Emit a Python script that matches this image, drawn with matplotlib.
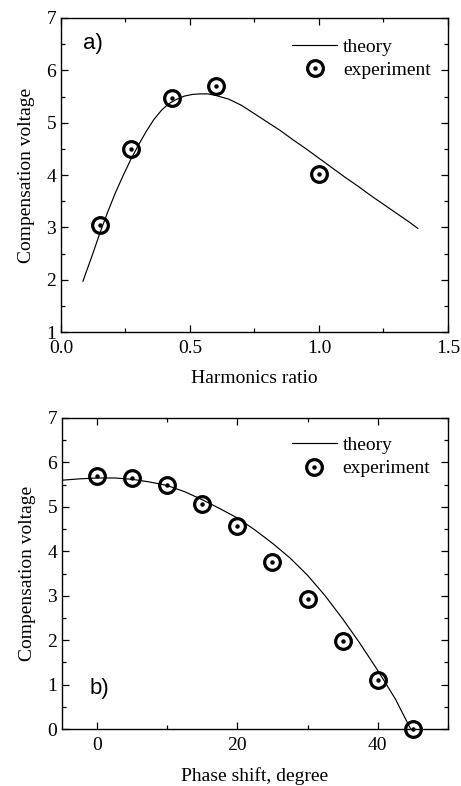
import numpy as np
import matplotlib
matplotlib.use("Agg")
import matplotlib.pyplot as plt
from matplotlib.ticker import MultipleLocator
from matplotlib.legend_handler import HandlerTuple

plt.rcParams['font.family'] = ['Liberation Serif', 'DejaVu Serif']
plt.rcParams['font.size'] = 14

# panel a) - harmonics ratio
ratio_theory = [0.085, 0.12, 0.15, 0.18, 0.21, 0.24, 0.27, 0.30, 0.33, 0.36,
                0.39, 0.42, 0.45, 0.48, 0.51, 0.54, 0.57, 0.60, 0.65, 0.70,
                0.75, 0.80, 0.85, 0.90, 0.95, 1.0, 1.05, 1.10, 1.15, 1.20,
                1.25, 1.30, 1.35, 1.383]
volt_theory_a = [1.97, 2.45, 2.88, 3.28, 3.65, 3.98, 4.29, 4.57, 4.83, 5.06,
                 5.24, 5.37, 5.45, 5.51, 5.54, 5.55, 5.55, 5.52, 5.45, 5.33,
                 5.17, 5.01, 4.85, 4.67, 4.50, 4.32, 4.14, 3.96, 3.79, 3.61,
                 3.44, 3.27, 3.10, 2.98]
ratio_exp = [0.15, 0.27, 0.43, 0.60, 1.0]
volt_exp_a = [3.05, 4.50, 5.48, 5.70, 4.02]

# panel b) - phase shift
phase_theory = [-5, -2.5, 0, 2.5, 5, 7.5, 10, 12.5, 15, 17.5, 20, 22.5, 25,
                27.5, 30, 32.5, 35, 37.5, 40, 42.5, 44.7]
volt_theory_b = [5.60, 5.63, 5.65, 5.65, 5.62, 5.56, 5.48, 5.34, 5.16, 4.96,
                 4.75, 4.48, 4.18, 3.85, 3.46, 3.00, 2.48, 1.92, 1.32, 0.68, 0.0]
phase_exp = [0, 5, 10, 15, 20, 25, 30, 35, 40, 45]
volt_exp_b = [5.70, 5.66, 5.50, 5.06, 4.57, 3.77, 2.93, 1.99, 1.10, 0.0]

fig = plt.figure(figsize=(4.61, 7.86), dpi=100)
ax1 = fig.add_axes([0.1323, 0.5776, 0.8395, 0.3995])
ax2 = fig.add_axes([0.1345, 0.0725, 0.837, 0.3957])


def draw(ax, xt, yt, xe, ye, leg_y):
    line, = ax.plot(xt, yt, color='black', lw=0.85)
    circ, = ax.plot(xe, ye, 'o', ms=11.3, mfc='none', mec='black', mew=2.3,
                    clip_on=False)
    dot, = ax.plot(xe, ye, 'o', ms=2.2, color='black', clip_on=False)
    ax.legend([line, (circ, dot)], ['theory', 'experiment'],
              handler_map={tuple: HandlerTuple(ndivide=1)},
              loc='upper right', bbox_to_anchor=(0.99, leg_y), frameon=False,
              handlelength=2.3, handletextpad=0.3, labelspacing=0.3,
              fontsize=14, borderpad=0.2)
    ax.tick_params(which='both', direction='in', top=True, right=True,
                   width=0.9, labelsize=14)
    ax.tick_params(which='major', length=5)
    ax.tick_params(which='minor', length=3)
    ax.tick_params(axis='x', pad=6)
    for s in ax.spines.values():
        s.set_linewidth(1.0)


draw(ax1, ratio_theory, volt_theory_a, ratio_exp, volt_exp_a, 0.98)
ax1.set_xlim(0, 1.5)
ax1.set_ylim(1, 7)
ax1.xaxis.set_minor_locator(MultipleLocator(0.25))
ax1.yaxis.set_major_locator(MultipleLocator(1))
ax1.yaxis.set_minor_locator(MultipleLocator(0.5))
ax1.set_xticks([0, 0.5, 1.0, 1.5], ['0.0', '0.5', '1.0', '1.5'])
ax1.set_xlabel('Harmonics ratio', labelpad=9)
ax1.set_ylabel('Compensation voltage', labelpad=8)
ax1.text(0.057, 0.92, 'a)', transform=ax1.transAxes, fontsize=16,
         family=['Liberation Sans', 'DejaVu Sans'], va='center', ha='left')

draw(ax2, phase_theory, volt_theory_b, phase_exp, volt_exp_b, 0.985)
ax2.set_xlim(-5, 50)
ax2.set_ylim(0, 7)
ax2.xaxis.set_major_locator(MultipleLocator(20))
ax2.xaxis.set_minor_locator(MultipleLocator(10))
ax2.yaxis.set_major_locator(MultipleLocator(1))
ax2.yaxis.set_minor_locator(MultipleLocator(0.5))
ax2.set_xlabel('Phase shift, degree', labelpad=9)
ax2.set_ylabel('Compensation voltage', labelpad=8)
ax2.text(0.072, 0.13, 'b)', transform=ax2.transAxes, fontsize=16,
         family=['Liberation Sans', 'DejaVu Sans'], va='center', ha='left')

fig.savefig('out.png', dpi=100)
